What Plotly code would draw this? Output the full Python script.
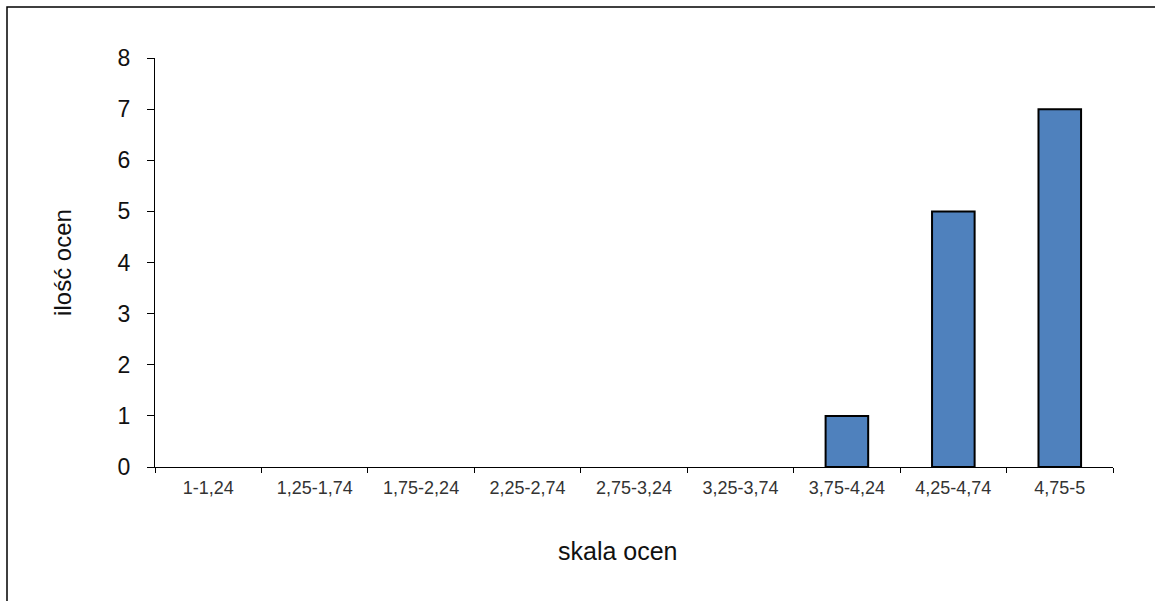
import plotly.graph_objects as go

categories = ["1-1,24", "1,25-1,74", "1,75-2,24", "2,25-2,74", "2,75-3,24",
              "3,25-3,74", "3,75-4,24", "4,25-4,74", "4,75-5"]
counts = [0, 0, 0, 0, 0, 0, 1, 5, 7]
y_ticks = [0, 1, 2, 3, 4, 5, 6, 7, 8]

W, H = 1155, 601
ml, mr, mt, mb = 155, 42, 58, 134
pw, ph = W - ml - mr, H - mt - mb

fig = go.Figure(go.Bar(
    x=categories, y=counts,
    marker=dict(color="#4F81BD",
                line=dict(color="black", width=[2 if v > 0 else 0 for v in counts])),
))

fig.update_layout(
    width=W, height=H,
    margin=dict(l=ml, r=mr, t=mt, b=mb, pad=0),
    paper_bgcolor="white", plot_bgcolor="white",
    bargap=0.6, showlegend=False,
    font=dict(family="Liberation Sans, Arial, sans-serif", color="black"),
)
fig.update_xaxes(
    type="category", showgrid=False, showline=True, linecolor="black", linewidth=1,
    ticks="outside", tickson="boundaries", ticklen=5, tickcolor="black",
    ticklabelstandoff=4,
    tickfont=dict(size=18, color="#333"),
)
fig.update_yaxes(
    range=[0, 8], tickvals=y_ticks, showgrid=False, zeroline=False,
    showline=True, linecolor="black", linewidth=1,
    ticks="outside", ticklen=7, tickcolor="black", ticklabelstandoff=12,
    tickfont=dict(size=23, color="#111"),
    title=dict(text="ilość ocen", font=dict(size=24, color="#111"), standoff=39),
)
# x-axis title (placed left of centre as in the original)
fig.add_annotation(text="skala ocen", xref="paper", yref="paper",
                   x=(618 - ml) / pw, y=-(551 - (mt + ph)) / ph,
                   xanchor="center", yanchor="middle", showarrow=False,
                   font=dict(size=25, color="#111"))
# outer chart border
fig.add_shape(type="rect", xref="paper", yref="paper",
              x0=(7 - ml) / pw, x1=(W + 20 - ml) / pw,
              y0=-(H + 20 - mt - ph) / ph, y1=(H - 7 - mb) / ph,
              line=dict(color="black", width=1.5), layer="below")

fig.write_html("out.html", config={"displayModeBar": False},
               post_script=["document.body.style.margin='0';document.body.style.overflow='hidden';"])
